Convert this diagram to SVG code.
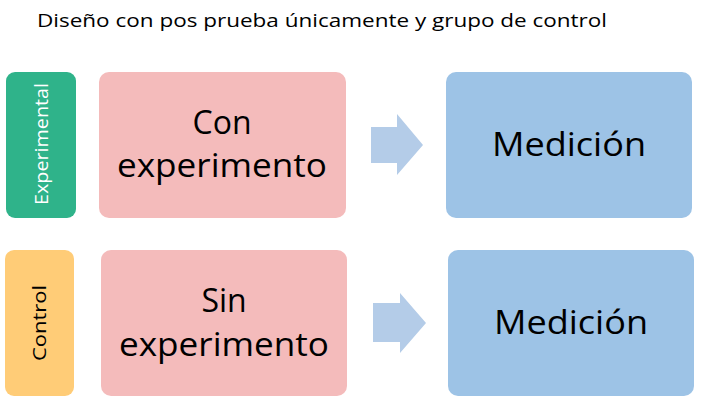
<svg xmlns="http://www.w3.org/2000/svg" width="704" height="407" viewBox="0 0 704 407">
<style>
.t{font-family:"Open Sans","Noto Sans","Liberation Sans",sans-serif;}
.big{font-size:32px;fill:#000;text-anchor:middle;}
.side{font-size:18px;text-anchor:middle;}
</style>
<rect width="704" height="407" fill="#fff"/>
<text class="t" x="37" y="27" font-size="19" textLength="570" lengthAdjust="spacingAndGlyphs">Diseño con pos prueba únicamente y grupo de control</text>
<g id="experimental">
<rect x="6" y="72" width="70" height="146" rx="9" fill="#2FB38A"/>
<text class="t side" fill="#fff" transform="translate(48,144) rotate(-90)" textLength="122" lengthAdjust="spacingAndGlyphs">Experimental</text>
</g>
<g id="control">
<rect x="5" y="250" width="69" height="146" rx="9" fill="#FFCC77"/>
<text class="t side" fill="#000" transform="translate(46,323) rotate(-90)" textLength="76" lengthAdjust="spacingAndGlyphs">Control</text>
</g>
<g id="con-experimento">
<rect x="99" y="72" width="247" height="146" rx="10" fill="#F4BBBB"/>
<text class="t big" x="222" y="134">Con</text>
<text class="t big" x="222" y="177" textLength="210" lengthAdjust="spacingAndGlyphs">experimento</text>
</g>
<g id="sin-experimento">
<rect x="101" y="250" width="246" height="146" rx="10" fill="#F4BBBB"/>
<text class="t big" x="224" y="312">Sin</text>
<text class="t big" x="224" y="356" textLength="210" lengthAdjust="spacingAndGlyphs">experimento</text>
</g>
<g id="medicion-1">
<rect x="446" y="72" width="246" height="146" rx="10" fill="#9DC3E6"/>
<text class="t big" x="569" y="156" textLength="154" lengthAdjust="spacingAndGlyphs">Medición</text>
</g>
<g id="medicion-2">
<rect x="448" y="250" width="246" height="146" rx="10" fill="#9DC3E6"/>
<text class="t big" x="571" y="334" textLength="154" lengthAdjust="spacingAndGlyphs">Medición</text>
</g>
<g id="connectors" fill="#B4CCE8">
<polygon points="371,127 397,127 397,114 423,145 397,175 397,163 371,163"/>
<polygon points="373,303 400,303 400,293 426,323 400,353 400,342 373,342"/>
</g>
</svg>
